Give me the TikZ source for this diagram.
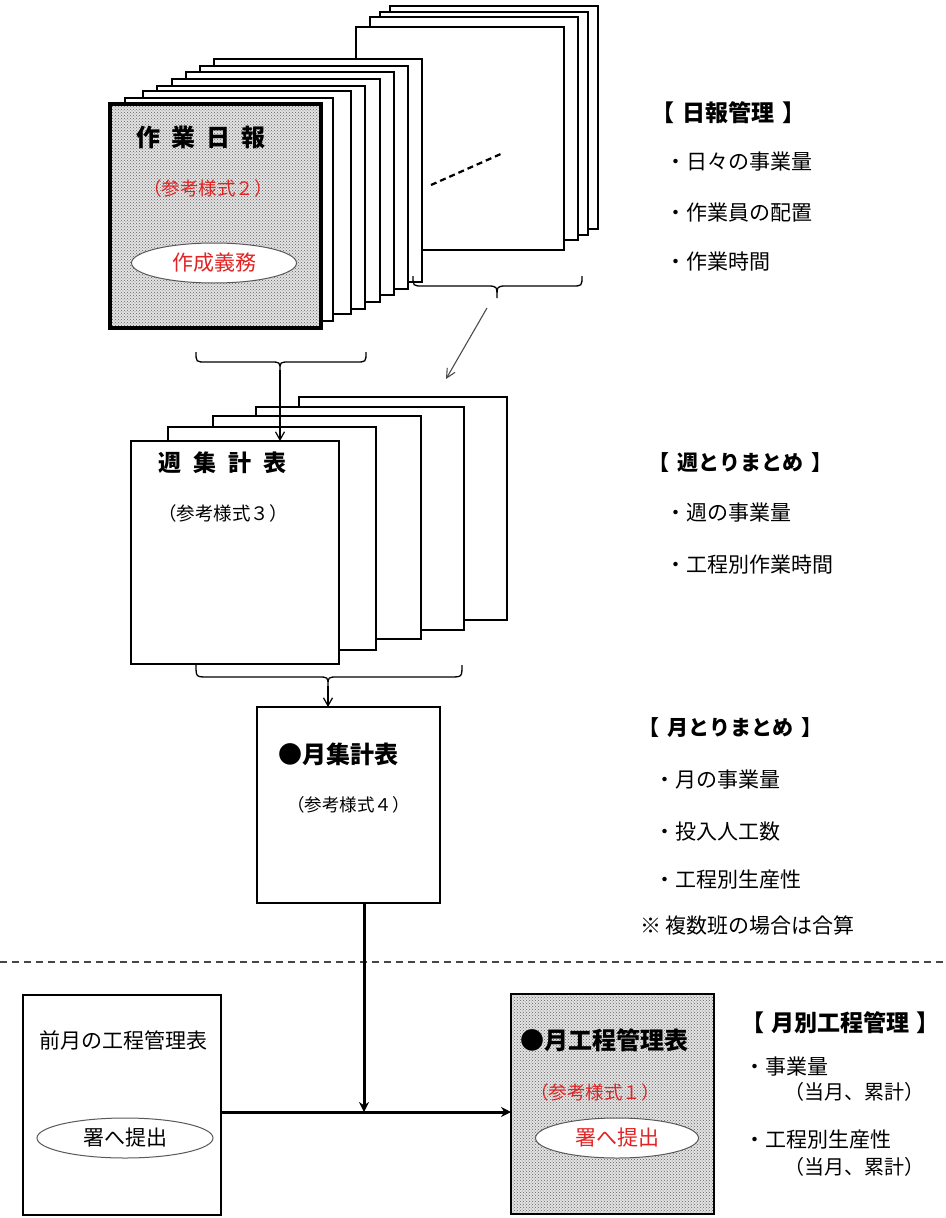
\documentclass[tikz,border=0pt]{standalone}
\usepackage{fontspec}
\setmainfont{Noto Sans CJK JP}
\usetikzlibrary{shapes.geometric,patterns,arrows.meta}
\definecolor{txtred}{RGB}{225,35,35}
\newcommand{\fsz}[1]{\fontsize{#1pt}{#1pt}\selectfont}
\begin{document}
\begin{tikzpicture}[x=1pt,y=-1pt,
  page/.style={draw, line width=1.6pt, fill=white, anchor=north west, minimum width=208pt, minimum height=223pt, inner sep=0pt, outer sep=0pt},
  shaded/.style={draw, preaction={fill=gray!22}, pattern=crosshatch dots, pattern color=gray!75!black, anchor=north west, inner sep=0pt, outer sep=0pt},
  txt/.style={anchor=west, inner sep=0pt, font=\fsz{21}},
  head/.style={anchor=west, inner sep=0pt, font=\fsz{21}\bfseries},
  oval/.style={ellipse, draw=gray!70!black, line width=1pt, fill=white, minimum height=40pt, inner sep=0pt, font=\fsz{21}},
  bracepath/.style={draw, line width=1.3pt},
  thinarrow/.style={draw, line width=1.2pt, -{Straight Barb[length=8pt,width=9pt]}},
  grayarrow/.style={draw=gray!60!black, line width=1.1pt, -{Straight Barb[length=9pt,width=9pt]}},
  boldarrow/.style={draw, line width=3pt, -{Stealth[length=10pt,width=10pt]}}
]
\useasboundingbox (0,0) rectangle (945,1218);

% ---- daily report stack ----
\node[page] (d12) at (390,6) {};
\node[page] (d11) at (380,12) {};
\node[page] (d10) at (370,17) {};
\node[page] (d9) at (356,27) {};
\node[page] (d8) at (214,59) {};
\node[page] (d7) at (200,66) {};
\node[page] (d6) at (186,72) {};
\node[page] (d5) at (172,79) {};
\node[page] (d4) at (157,86) {};
\node[page] (d3) at (143,91) {};
\node[page] (d2) at (125,98) {};
\node[shaded, line width=3.2pt, minimum width=211pt, minimum height=224pt] (d1) at (110,104) {};
\draw[line width=2.2pt, dash pattern=on 6pt off 4pt] (431,185) -- (503,153);

\node[anchor=west, inner sep=0pt, font=\fsz{24}\bfseries] (t1) at (136,137) {作\hspace{11pt}業\hspace{11pt}日\hspace{11pt}報};
\node[txt, font=\fsz{18.5}, text=txtred] (t1s) at (143,188) {（参考様式２）};
\node[oval, minimum width=165pt, text=txtred] (o1) at (214,263) {作成義務};

% braces under daily stack
\draw[bracepath] (196,352) .. controls (196,362) .. (206,362) -- (270,362) .. controls (280,362) .. (280,370) .. controls (280,362) .. (290,362) -- (356,362) .. controls (366,362) .. (366,352);
\coordinate (b1) at (280,370);
\draw[bracepath] (413,276) .. controls (413,286) .. (423,286) -- (487,286) .. controls (497,286) .. (497,298) .. controls (497,286) .. (507,286) -- (572,286) .. controls (582,286) .. (582,276);
\coordinate (a1) at (487,308);
\coordinate (a2) at (446,379);
\draw[grayarrow] (a1) -- (a2);

% ---- weekly stack ----
\node[page] (w5) at (299,397) {};
\node[page] (w4) at (256,407) {};
\node[page] (w3) at (213,416) {};
\node[page] (w2) at (168,427) {};
\node[page] (w1) at (131,441) {};
\draw[thinarrow] (b1) -- (b1 |- w1.north);
\node[anchor=west, inner sep=0pt, font=\fsz{23}\bfseries] (t2) at (158,463) {週\hspace{12pt}集\hspace{12pt}計\hspace{12pt}表};
\node[txt, font=\fsz{18.5}] (t2s) at (158,513) {（参考様式３）};

\draw[bracepath] (196,665) .. controls (196,677) .. (208,677) -- (318,677) .. controls (328,677) .. (328,686) .. controls (328,677) .. (338,677) -- (450,677) .. controls (462,677) .. (462,665);
\coordinate (b3) at (328,686);

% ---- monthly ----
\node[draw, line width=1.6pt, fill=white, anchor=north west, minimum width=183pt, minimum height=196pt, inner sep=0pt, outer sep=0pt] (m) at (257,707) {};
\draw[thinarrow] (b3) -- (b3 |- m.north);
\node[anchor=west, inner sep=0pt, font=\fsz{24}\bfseries] (t3) at (278,754) {●月集計表};
\node[txt, font=\fsz{17.5}] (t3s) at (287,805) {（参考様式４）};

% ---- separator ----
\coordinate (sepL) at (0,962);
\coordinate (sepR) at (945,962);
\draw[line width=1.3pt, gray!55!black, dash pattern=on 7pt off 5pt] (sepL) -- (sepR);

% ---- bottom ----
\node[draw, line width=1.6pt, fill=white, anchor=north west, minimum width=198pt, minimum height=220pt, inner sep=0pt, outer sep=0pt] (prev) at (23,995) {};
\node[txt] (t4) at (39,1040) {前月の工程管理表};
\node[oval, minimum width=176pt] (o4) at (125,1138) {署へ提出};

\node[shaded, line width=2.8pt, minimum width=203pt, minimum height=220pt] (cur) at (511,994) {};
\node[anchor=west, inner sep=0pt, font=\fsz{24}\bfseries] (t5) at (520,1040) {●月工程管理表};
\node[txt, font=\fsz{18.5}, text=txtred] (t5s) at (530,1092) {（参考様式１）};
\node[oval, minimum width=163pt, text=txtred] (o5) at (617,1138) {署へ提出};

\coordinate (j) at (364,1112);
\draw[boldarrow] (m.south -| j) -- (j);
\draw[boldarrow] (prev.east |- j) -- (cur.west |- j);

% ---- right side notes ----
\node[head, font=\fsz{23}\bfseries] (h1) at (651,113) {【\hspace{8pt}日報管理\hspace{8pt}】};
\node[txt] (h1a) at (665,162) {・日々の事業量};
\node[txt] (h1b) at (665,213) {・作業員の配置};
\node[txt] (h1c) at (665,262) {・作業時間};

\node[head] (h2) at (648,463) {【\hspace{8pt}週とりまとめ\hspace{8pt}】};
\node[txt] (h2a) at (665,513) {・週の事業量};
\node[txt] (h2b) at (665,565) {・工程別作業時間};

\node[head] (h3) at (638,728) {【\hspace{8pt}月とりまとめ\hspace{8pt}】};
\node[txt] (h3a) at (654,780) {・月の事業量};
\node[txt] (h3b) at (654,832) {・投入人工数};
\node[txt] (h3c) at (654,880) {・工程別生産性};
\node[txt] (h3d) at (640,925) {※ 複数班の場合は合算};

\node[head, font=\fsz{23}\bfseries] (h4) at (741,1023) {【\hspace{7pt}月別工程管理\hspace{7pt}】};
\node[txt] (h4a) at (744,1067) {・事業量};
\node[txt, font=\fsz{20}] (h4b) at (784,1092) {（当月、累計）};
\node[txt] (h4c) at (744,1140) {・工程別生産性};
\node[txt, font=\fsz{20}] (h4d) at (784,1167) {（当月、累計）};
\end{tikzpicture}
\end{document}
